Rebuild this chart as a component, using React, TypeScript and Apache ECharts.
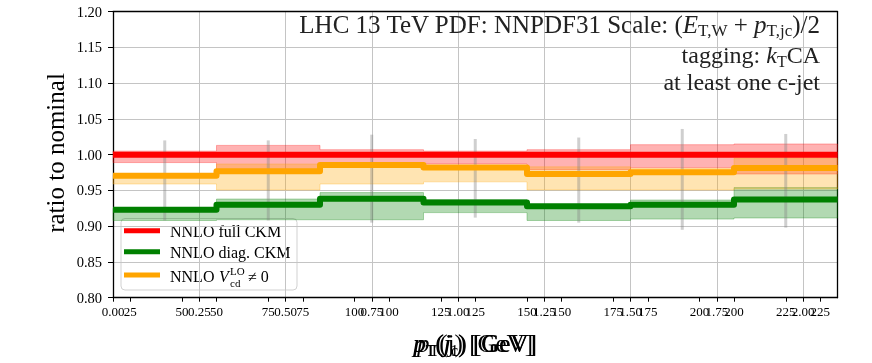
import React, { useEffect, useRef } from "react";
import * as echarts from "echarts";

// ---- data ----
const binEdges = [30, 60, 90, 120, 150, 180, 210, 240];
const fullCkm = [1.0, 1.0, 1.0, 1.0, 1.0, 1.0, 1.0];
const fullCkmLow = [0.989, 0.976, 0.987, 0.987, 0.979, 0.982, 0.973];
const fullCkmHigh = [1.005, 1.013, 1.007, 1.005, 1.007, 1.014, 1.015];
const diagCkm = [0.923, 0.93, 0.9385, 0.933, 0.928, 0.93, 0.9375];
const diagCkmLow = [0.908, 0.909, 0.909, 0.919, 0.908, 0.91, 0.9115];
const diagCkmHigh = [0.925, 0.938, 0.947, 0.937, 0.93, 0.9366, 0.954];
const vcdNonZero = [0.9706, 0.9767, 0.9856, 0.982, 0.973, 0.9753, 0.9814];
const vcdNonZeroLow = [0.959, 0.9506, 0.959, 0.962, 0.9507, 0.9506, 0.952];
const vcdNonZeroHigh = [0.972, 0.987, 0.988, 0.985, 0.983, 0.981, 0.995];
const statLow = [0.908, 0.908, 0.905, 0.912, 0.905, 0.895, 0.898];
const statHigh = [1.02, 1.02, 1.028, 1.022, 1.024, 1.036, 1.029];

const axisATicks = [0, 0.25, 0.5, 0.75, 1.0, 1.25, 1.5, 1.75, 2.0];
const axisBTicks = [25, 50, 75, 100, 125, 150, 175, 200, 225];
const axisCTicks = [50, 75, 100, 125, 150, 175, 200, 225];

const seriesNames = ["NNLO full CKM", "NNLO diag. CKM", "NNLO V_cd^LO ≠ 0"];
const titleLines = [
  "LHC 13 TeV PDF: NNPDF31 Scale: (E_T,W + p_T,jc)/2",
  "tagging: k_T CA",
  "at least one c-jet",
];

const FONT = "'Liberation Serif', 'DejaVu Serif', serif";
const RED = "#ff0000";
const GREEN = "#008000";
const ORANGE = "#ffa500";

function stepData(vals: number[]) {
  return binEdges.map((e, i) => [e, vals[Math.min(i, vals.length - 1)]]);
}

function bandSeries(low: number[], high: number[], fill: string, stroke: string, z: number) {
  return {
    type: "custom",
    xAxisIndex: 0,
    yAxisIndex: 0,
    z,
    silent: true,
    data: [[binEdges[0], low[0]]],
    renderItem: (_p: any, api: any) => {
      const pts: number[][] = [];
      for (let i = 0; i < low.length; i++) {
        pts.push(api.coord([binEdges[i], high[i]]));
        pts.push(api.coord([binEdges[i + 1], high[i]]));
      }
      for (let i = low.length - 1; i >= 0; i--) {
        pts.push(api.coord([binEdges[i + 1], low[i]]));
        pts.push(api.coord([binEdges[i], low[i]]));
      }
      return {
        type: "polygon",
        shape: { points: pts },
        style: { fill, stroke, lineWidth: 1 },
      };
    },
  };
}

function lineSeries(name: string, vals: number[], color: string, z: number) {
  return {
    type: "line",
    name,
    xAxisIndex: 0,
    yAxisIndex: 0,
    step: "end",
    z,
    symbol: "none",
    silent: true,
    data: stepData(vals),
    lineStyle: { color, width: 6, cap: "butt", join: "round" },
  };
}

const labelStyle = { color: "#000", fontFamily: FONT };

export default function App() {
  const ref = useRef<HTMLDivElement>(null);
  useEffect(() => {
    if (!ref.current) return;
    const chart = echarts.init(ref.current, undefined, { renderer: "svg" });
    const centers = binEdges.slice(0, -1).map((e, i) => (e + binEdges[i + 1]) / 2);
    const statData = centers.map((c, i) => [c, statLow[i], statHigh[i]]);

    const makeRich = (size: number) => ({
      i: { fontStyle: "italic", fontSize: size, fontFamily: FONT, lineHeight: Math.round(size * 1.2), color: "#222" },
      s: { fontSize: Math.round(size * 0.67), fontFamily: FONT, lineHeight: Math.round(size * 0.67), verticalAlign: "bottom", color: "#222" },
    });

    const option: any = {
      animation: false,
      grid: { left: 113, right: 34.5, top: 11.7, bottom: 65.3, containLabel: false },
      xAxis: [
        {
          type: "value",
          min: 30,
          max: 240,
          position: "bottom",
          axisLine: { show: true, onZero: false, lineStyle: { color: "#000", width: 1.3 } },
          axisTick: { show: true, customValues: axisCTicks, length: 4, lineStyle: { color: "#000", width: 1 } },
          axisLabel: { show: true, customValues: axisCTicks, formatter: (v: number) => String(v), fontSize: 13, margin: 7, ...labelStyle },
          splitLine: { show: false },
        },
        {
          type: "value",
          min: 20,
          max: 230,
          position: "bottom",
          axisLine: { show: false, onZero: false },
          axisTick: { show: true, customValues: axisBTicks, length: 4, lineStyle: { color: "#000", width: 1 } },
          axisLabel: { show: true, customValues: axisBTicks, formatter: (v: number) => String(v), fontSize: 13, margin: 7, ...labelStyle },
          splitLine: { show: false },
        },
        {
          type: "value",
          min: 0,
          max: 2.1,
          interval: 0.25,
          position: "bottom",
          axisLine: { show: false, onZero: false },
          axisTick: { show: true, customValues: axisATicks, length: 4, lineStyle: { color: "#000", width: 1 } },
          axisLabel: { show: true, customValues: axisATicks, formatter: (v: number) => v.toFixed(2), fontSize: 13, margin: 7, ...labelStyle },
          splitLine: { show: true, lineStyle: { color: "#c4c4c4", width: 1 } },
        },
        {
          type: "value",
          min: 0,
          max: 1,
          position: "top",
          axisLine: { show: true, onZero: false, lineStyle: { color: "#000", width: 1.3 } },
          axisTick: { show: false },
          axisLabel: { show: false },
          splitLine: { show: false },
        },
      ],
      yAxis: [
        {
          type: "value",
          min: 0.8,
          max: 1.2,
          interval: 0.05,
          position: "left",
          axisLine: { show: true, onZero: false, lineStyle: { color: "#000", width: 1.3 } },
          axisTick: { show: true, length: 5, lineStyle: { color: "#000", width: 1 } },
          axisLabel: { show: true, formatter: (v: number) => v.toFixed(2), fontSize: 14.5, margin: 11, ...labelStyle },
          splitLine: { show: true, lineStyle: { color: "#c4c4c4", width: 1 } },
        },
        {
          type: "value",
          min: 0,
          max: 1,
          position: "right",
          axisLine: { show: true, onZero: false, lineStyle: { color: "#000", width: 1.3 } },
          axisTick: { show: false },
          axisLabel: { show: false },
          splitLine: { show: false },
        },
      ],
      series: [
        bandSeries(fullCkmLow, fullCkmHigh, "rgba(255,0,0,0.3)", "rgba(255,0,0,0.3)", 2),
        bandSeries(diagCkmLow, diagCkmHigh, "rgba(0,128,0,0.3)", "rgba(0,128,0,0.3)", 2),
        bandSeries(vcdNonZeroLow, vcdNonZeroHigh, "rgba(255,165,0,0.3)", "rgba(255,165,0,0.3)", 2),
        {
          type: "custom",
          xAxisIndex: 0,
          yAxisIndex: 0,
          z: 3,
          silent: true,
          data: statData,
          renderItem: (_p: any, api: any) => {
            const a = api.coord([api.value(0), api.value(1)]);
            const b = api.coord([api.value(0), api.value(2)]);
            return {
              type: "line",
              shape: { x1: a[0], y1: a[1], x2: b[0], y2: b[1] },
              style: { stroke: "rgba(128,128,128,0.38)", lineWidth: 3 },
            };
          },
        },
        lineSeries(seriesNames[0], fullCkm, RED, 5),
        lineSeries(seriesNames[1], diagCkm, GREEN, 5),
        lineSeries(seriesNames[2], vcdNonZero, ORANGE, 5),
      ],
      graphic: [
        // title block
        {
          type: "text",
          x: 820,
          y: 24,
          z: 50,
          style: {
            text: "LHC 13 TeV PDF: NNPDF31 Scale: ({i|E}{s|T,W} + {i|p}{s|T,jc})/2",
            align: "right",
            verticalAlign: "middle",
            fontSize: 25,
            fontFamily: FONT,
            fill: "#222",
            rich: makeRich(25),
          },
        },
        {
          type: "text",
          x: 820,
          y: 55,
          z: 50,
          style: {
            text: "tagging: {i|k}{s|T}CA",
            align: "right",
            verticalAlign: "middle",
            fontSize: 24,
            fontFamily: FONT,
            fill: "#222",
            rich: makeRich(24),
          },
        },
        {
          type: "text",
          x: 820,
          y: 82,
          z: 50,
          style: {
            text: titleLines[2],
            align: "right",
            verticalAlign: "middle",
            fontSize: 24,
            fontFamily: FONT,
            fill: "#222",
          },
        },
        // y label
        {
          type: "text",
          x: 55,
          y: 153,
          rotation: Math.PI / 2,
          style: {
            text: "ratio to nominal",
            align: "center",
            verticalAlign: "middle",
            fontSize: 25,
            fontFamily: FONT,
            fill: "#000",
          },
        },
        // x label (overlapping, as in reference)
        ...["{i|p}{s|T}(j) [GeV]", "{i|p}{s|T}({i|j}{s|1}) [GeV]", "{i|p}{s|T}({i|j}{s|c}) [GeV]"].map((t) => ({
          type: "text",
          x: 475,
          y: 343,
          style: {
            text: t,
            align: "center",
            verticalAlign: "middle",
            fontSize: 25,
            fontFamily: FONT,
            fill: "#000",
            rich: {
              i: { fontStyle: "italic", fontSize: 25, fontFamily: FONT, lineHeight: 30, fill: "#000" },
              s: { fontSize: 16, fontFamily: FONT, lineHeight: 16, verticalAlign: "bottom", fill: "#000" },
            },
          },
        })),
        // legend
        {
          type: "group",
          z: 60,
          children: [
            {
              type: "rect",
              shape: { x: 121, y: 218.5, width: 176, height: 71.5, r: 4 },
              style: { fill: "rgba(255,255,255,0.8)", stroke: "rgba(204,204,204,0.9)", lineWidth: 1 },
            },
            { type: "line", shape: { x1: 124, y1: 230.7, x2: 160, y2: 230.7 }, style: { stroke: RED, lineWidth: 5 } },
            { type: "line", shape: { x1: 124, y1: 251.7, x2: 160, y2: 251.7 }, style: { stroke: GREEN, lineWidth: 5 } },
            { type: "line", shape: { x1: 124, y1: 275, x2: 160, y2: 275 }, style: { stroke: ORANGE, lineWidth: 5 } },
            {
              type: "text",
              x: 170,
              y: 231,
              style: { text: seriesNames[0], fontSize: 16, fontFamily: FONT, fill: "#000", verticalAlign: "middle" },
            },
            {
              type: "text",
              x: 170,
              y: 252,
              style: { text: seriesNames[1], fontSize: 16, fontFamily: FONT, fill: "#000", verticalAlign: "middle" },
            },
            { type: "text", x: 170, y: 276, style: { text: "NNLO", fontSize: 16, fontFamily: FONT, fill: "#000", verticalAlign: "middle" } },
            { type: "text", x: 219, y: 276, style: { text: "V", fontSize: 16, fontStyle: "italic", fontFamily: FONT, fill: "#000", verticalAlign: "middle" } },
            { type: "text", x: 230, y: 270.5, style: { text: "LO", fontSize: 11, fontFamily: FONT, fill: "#000", verticalAlign: "middle" } },
            { type: "text", x: 230, y: 282.5, style: { text: "cd", fontSize: 11, fontFamily: FONT, fill: "#000", verticalAlign: "middle" } },
            { type: "text", x: 248, y: 276, style: { text: "≠ 0", fontSize: 16, fontFamily: FONT, fill: "#000", verticalAlign: "middle" } },
          ],
        },
      ],
    };
    chart.setOption(option);
    return () => chart.dispose();
  }, []);
  return <div ref={ref} style={{ position: "fixed", left: 0, top: 0, width: 872, height: 363 }} />;
}
